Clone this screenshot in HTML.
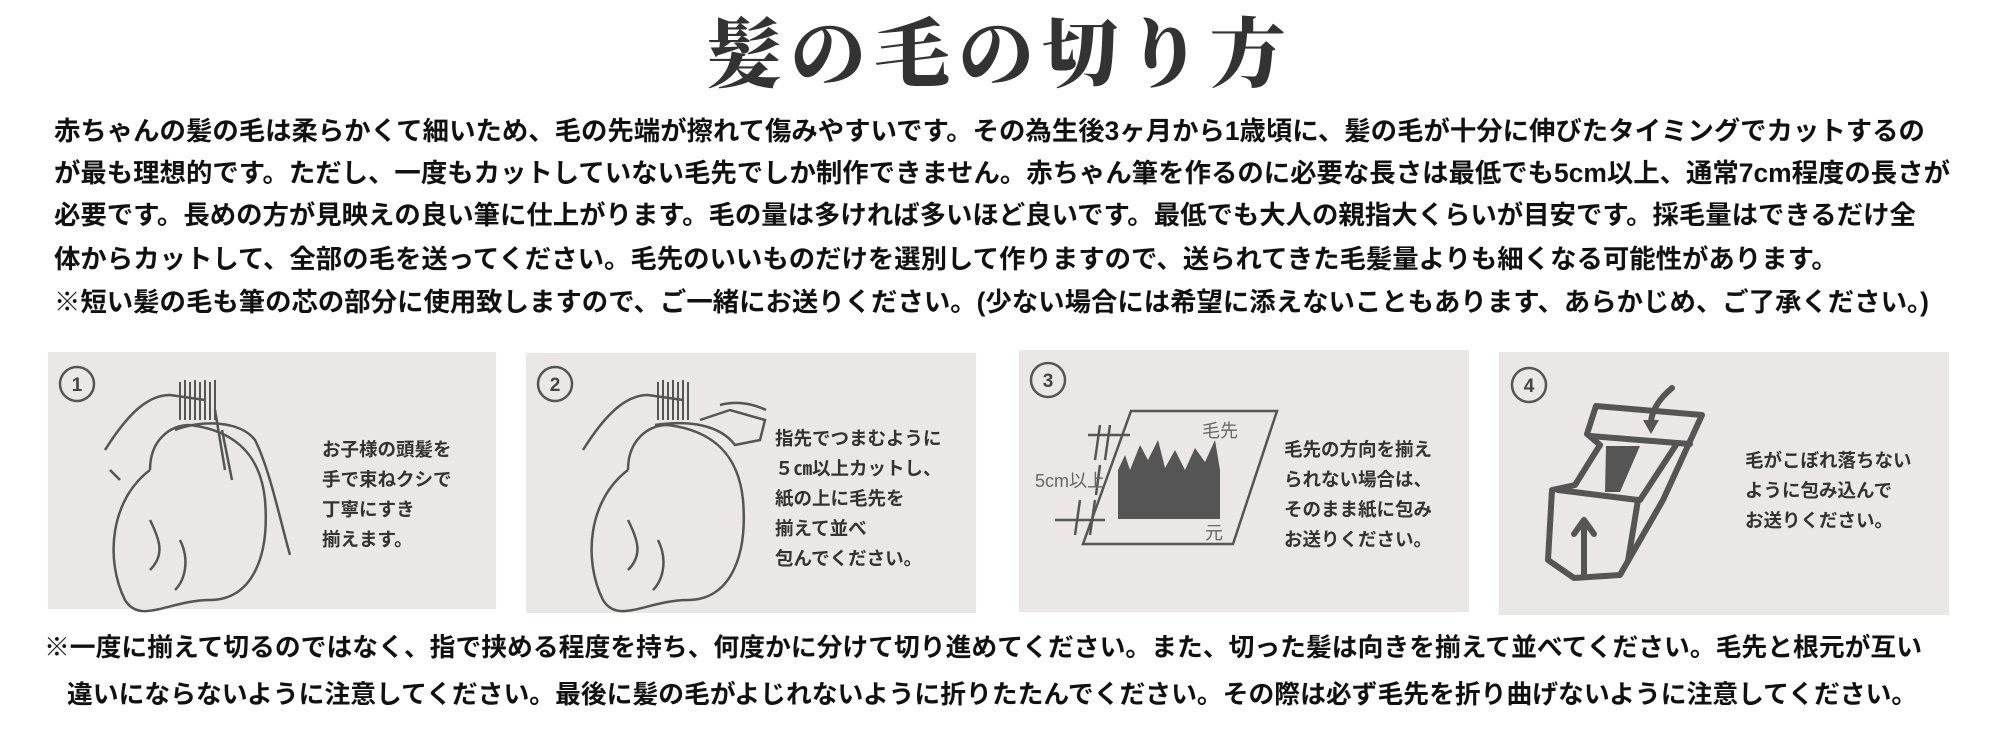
<!DOCTYPE html>
<html><head><meta charset="utf-8"><style>
body{margin:0;width:2000px;height:741px;background:#fff;position:relative;overflow:hidden;font-family:"Liberation Sans","Noto Sans CJK JP",sans-serif;}
.t{position:absolute;white-space:nowrap;}
.title{left:706px;top:-6px;font-family:"Liberation Serif","Noto Serif CJK JP",serif;font-weight:900;font-size:76px;letter-spacing:8px;color:#333;}
.p{left:54px;font-size:26.4px;font-weight:700;color:#111;line-height:30px;}
.b{font-size:25.8px;}
.panel{position:absolute;background:#ebe7e6;}
.pt{font-size:18.5px;color:#333;line-height:30px;font-weight:700;}
</style></head><body>
<div class="t title">髪の毛の切り方</div>
<div class="t p" style="top:116px">赤ちゃんの髪の毛は柔らかくて細いため、毛の先端が擦れて傷みやすいです。その為生後3ヶ月から1歳頃に、髪の毛が十分に伸びたタイミングでカットするの</div>
<div class="t p" style="top:158px">が最も理想的です。ただし、一度もカットしていない毛先でしか制作できません。赤ちゃん筆を作るのに必要な長さは最低でも5cm以上、通常7cm程度の長さが</div>
<div class="t p" style="top:200px">必要です。長めの方が見映えの良い筆に仕上がります。毛の量は多ければ多いほど良いです。最低でも大人の親指大くらいが目安です。採毛量はできるだけ全</div>
<div class="t p" style="top:244px">体からカットして、全部の毛を送ってください。毛先のいいものだけを選別して作りますので、送られてきた毛髪量よりも細くなる可能性があります。</div>
<div class="t p" style="top:287px">※短い髪の毛も筆の芯の部分に使用致しますので、ご一緒にお送りください。(少ない場合には希望に添えないこともあります、あらかじめ、ご了承ください。)</div>

<div class="panel" style="left:48px;top:352px;width:448px;height:257px"></div>
<div class="panel" style="left:526px;top:353px;width:450px;height:260px"></div>
<div class="panel" style="left:1019px;top:350px;width:450px;height:262px"></div>
<div class="panel" style="left:1499px;top:352px;width:450px;height:263px"></div>

<svg style="position:absolute;left:0;top:0" width="2000" height="741">
<g fill="none" stroke="#555" stroke-width="2.5">
<circle cx="77" cy="384" r="17"/><circle cx="555" cy="384" r="17"/><circle cx="1048" cy="380" r="17"/><circle cx="1529" cy="385" r="17"/>
<path d="M150,470 C110,500 105,560 125,600 C140,625 170,600 210,600 C250,600 270,560 265,500 C260,450 230,430 190,425 C170,425 150,440 150,470"/>
<path d="M105,450 C130,410 150,395 170,395 L205,400 M120,480 L110,470"/>
<path d="M175,430 C200,420 240,420 255,440 C270,470 280,520 290,555"/>
<path d="M215,410 L225,470 M222,430 L232,480"/>
<path d="M150,520 C160,540 165,555 150,570 M180,540 C190,560 185,580 175,590"/>
<g stroke-width="2"><path d="M180,382 L180,420 M185,380 L185,420 M190,382 L190,420 M195,380 L195,420 M200,382 L200,420 M205,380 L205,420 M210,382 L210,420 M215,380 L215,420"/></g>
<path d="M628,470 C588,500 583,560 603,600 C618,625 648,600 688,600 C728,600 748,560 743,500 C738,450 708,430 668,425 C648,425 628,440 628,470"/>
<path d="M583,450 C608,410 628,395 648,395 L683,400"/>
<path d="M655,425 C690,420 720,425 735,445 L760,440 L765,420 L730,410 L700,420 M720,405 C740,400 755,405 766,410"/>
<path d="M628,520 C638,540 643,555 628,570 M658,540 C668,560 663,580 653,590"/>
<g stroke-width="2"><path d="M658,382 L658,420 M663,380 L663,420 M668,382 L668,420 M673,380 L673,420 M678,382 L678,420 M683,380 L683,420 M688,382 L688,420"/></g>
<path d="M1131,411 L1277,411 L1233,544 L1083,544 Z"/>
<path d="M1088,435 L1130,435 M1100,425 L1095,460 M1110,425 L1105,460 M1055,520 L1105,520 M1080,500 L1075,535 M1095,500 L1090,535 M1100,465 L1096,495"/>
<g stroke-width="6" stroke-linejoin="round" stroke-linecap="round">
<path d="M1596,406 L1702,415 L1663,500 L1628,561 L1620,575 L1574,578 L1548,560 L1552,490 L1575,485 L1600,445 L1587,434 Z"/>
<path d="M1590,436 L1690,444 M1558,490 L1638,500 L1628,561 M1676,445 L1640,500"/>
<path d="M1672,388 C1660,398 1652,410 1651,422"/>
<path d="M1584,574 L1584,522 M1574,534 L1584,520 L1594,534"/>
</g>
</g>
<path d="M1643,420 L1659,420 L1651,434 Z" fill="#555"/>
<path d="M1606,446 L1640,446 L1620,492 L1605,492 Z" fill="#555"/>
<path d="M1118,519 L1118,470 L1125,455 L1130,470 L1140,445 L1148,460 L1158,440 L1165,468 L1175,450 L1185,470 L1195,448 L1205,462 L1215,440 L1220,470 L1220,519 Z" fill="#555"/>
<g font-family="Liberation Sans,Noto Sans CJK JP,sans-serif" font-size="19" font-weight="bold" fill="#444" text-anchor="middle">
<text x="77" y="391">1</text><text x="555" y="391">2</text><text x="1048" y="387">3</text><text x="1529" y="392">4</text>
</g>
<g font-family="Liberation Sans,Noto Sans CJK JP,sans-serif" font-size="18" fill="#666">
<text x="1202" y="437">毛先</text><text x="1205" y="539">元</text><text x="1035" y="487">5cm以上</text>
</g>
</svg>

<div class="t pt" style="left:322px;top:435px">お子様の頭髪を<br>手で束ねクシで<br>丁寧にすき<br>揃えます。</div>
<div class="t pt" style="left:775px;top:424px">指先でつまむように<br>５㎝以上カットし、<br>紙の上に毛先を<br>揃えて並べ<br>包んでください。</div>
<div class="t pt" style="left:1284px;top:435px">毛先の方向を揃え<br>られない場合は、<br>そのまま紙に包み<br>お送りください。</div>
<div class="t pt" style="left:1745px;top:446px">毛がこぼれ落ちない<br>ように包み込んで<br>お送りください。</div>

<div class="t p b" style="left:44px;top:633px">※一度に揃えて切るのではなく、指で挟める程度を持ち、何度かに分けて切り進めてください。また、切った髪は向きを揃えて並べてください。毛先と根元が互い</div>
<div class="t p b" style="left:67px;top:680px">違いにならないように注意してください。最後に髪の毛がよじれないように折りたたんでください。その際は必ず毛先を折り曲げないように注意してください。</div>
</body></html>
